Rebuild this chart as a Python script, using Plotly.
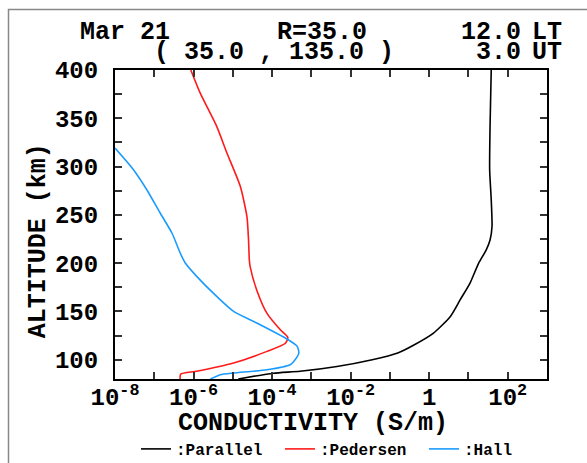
import plotly.graph_objects as go

# ---- data (altitude in km, log10 of conductivity in S/m) ----
parallel_alt = [80, 86, 88, 93, 100, 107, 115, 127.6, 144.8, 162.1, 179.4, 200, 213.5, 224, 238, 265.7, 296.8, 341.6, 400]
parallel_log = [-4.86, -3.97, -3.29, -2.35, -1.45, -0.80, -0.40, 0.11, 0.54, 0.79, 1.04, 1.26, 1.45, 1.55, 1.60, 1.58, 1.54, 1.55, 1.58]

pedersen_alt = [80, 85, 88, 96.6, 108.6, 117, 123, 131, 148, 172, 196.6, 203.5, 224, 248, 279.5, 314, 341.6, 376, 400]
pedersen_log = [-6.34, -6.33, -5.92, -4.98, -4.13, -3.66, -3.60, -3.79, -4.13, -4.39, -4.56, -4.58, -4.60, -4.64, -4.81, -5.15, -5.41, -5.83, -6.07]

hall_alt = [80, 84.4, 86.2, 89.6, 94.8, 98.2, 106.9, 113.8, 121.4, 138, 150, 165.5, 186.3, 200.1, 210.5, 231.2, 251.9, 276, 296.8, 319.2]
hall_log = [-5.57, -5.32, -4.98, -4.13, -3.54, -3.45, -3.32, -3.36, -3.62, -4.39, -4.98, -5.41, -5.92, -6.21, -6.34, -6.55, -6.85, -7.19, -7.53, -8.0]

x_exponents = list(range(-8, 4))
x_labels = {-8: "10<sup>-8</sup>", -6: "10<sup>-6</sup>", -4: "10<sup>-4</sup>", -2: "10<sup>-2</sup>", 0: "1", 2: "10<sup>2</sup>"}
y_ticks = list(range(100, 401, 25))

FONT = "Liberation Mono, Courier New, monospace"

# plot-area geometry in pixels (for placing text in paper coordinates)
W, H = 587, 463
ML, MR, MT, MB = 115, 40, 70, 84
PW, PH = W - ML - MR, H - MT - MB


def px(x):
    return (x - ML) / PW


def py(y):
    return (H - MB - y) / PH


fig = go.Figure()
series = [
    (":Parallel", parallel_alt, parallel_log, "black"),
    (":Pedersen", pedersen_alt, pedersen_log, "#ff1a1a"),
    (":Hall", hall_alt, hall_log, "#1a9bff"),
]
for name, alt, lg, col in series:
    fig.add_trace(go.Scatter(
        x=[10 ** v for v in lg], y=alt, mode="lines", name=name,
        line=dict(color=col, width=1.6, shape="spline", smoothing=0.6),
    ))

axis_common = dict(
    showgrid=False, zeroline=False, showline=True, linecolor="black", linewidth=2,
    mirror="ticks", ticks="inside", ticklen=7, tickwidth=1.5, tickcolor="#333",
    tickfont=dict(family=FONT, size=24, color="black", weight="bold"),
    automargin=False,
)

fig.update_xaxes(
    type="log", range=[-8, 3],
    tickvals=[10 ** e for e in x_exponents],
    ticktext=[x_labels.get(e, "") for e in x_exponents],
    ticklabelstandoff=-5,
    **axis_common,
)
fig.update_yaxes(
    range=[80, 400],
    tickvals=y_ticks,
    ticktext=[str(v) if v % 50 == 0 else "" for v in y_ticks],
    ticklabelstandoff=10,
    **axis_common,
)

tfont = dict(family=FONT, size=25, color="black", weight="bold")
ann = [
    ("Mar 21", 125.4, 33, "center"),
    ("R=35.0", 321.5, 33, "center"),
    ("12.0", 523, 33, "right"),
    ("LT", 530, 33, "left"),
    ("( 35.0 , 135.0 )", 273.5, 52, "center"),
    ("3.0", 523, 52, "right"),
    ("UT", 530, 52, "left"),
    ("CONDUCTIVITY (S/m)", 312.5, 423, "center"),
]
for text, x, y, xa in ann:
    fig.add_annotation(text=text, x=px(x), y=py(y), xref="paper", yref="paper",
                       xanchor=xa, yanchor="middle", showarrow=False, font=tfont)
fig.add_annotation(text="ALTITUDE (km)", x=px(38.3), y=py(241), xref="paper", yref="paper",
                   xanchor="center", yanchor="middle", showarrow=False, textangle=-90, font=tfont)

# outer frame
fig.add_shape(type="rect", xref="paper", yref="paper",
              x0=px(8.5), x1=px(600), y0=py(480), y1=py(9.5),
              line=dict(color="#888", width=1.5), fillcolor="rgba(0,0,0,0)", layer="below")

fig.update_layout(
    width=W, height=H,
    margin=dict(l=ML, r=MR, t=MT, b=MB, autoexpand=False),
    paper_bgcolor="white", plot_bgcolor="white",
    font=dict(family=FONT, color="black"),
    showlegend=True,
    legend=dict(
        orientation="h", x=px(136), xanchor="left", y=py(449), yanchor="middle",
        font=dict(family=FONT, size=16, color="black", weight="bold"),
        entrywidth=99, entrywidthmode="pixels", bgcolor="rgba(0,0,0,0)",
        itemclick=False,
    ),
)

fig.write_html("out.html")
